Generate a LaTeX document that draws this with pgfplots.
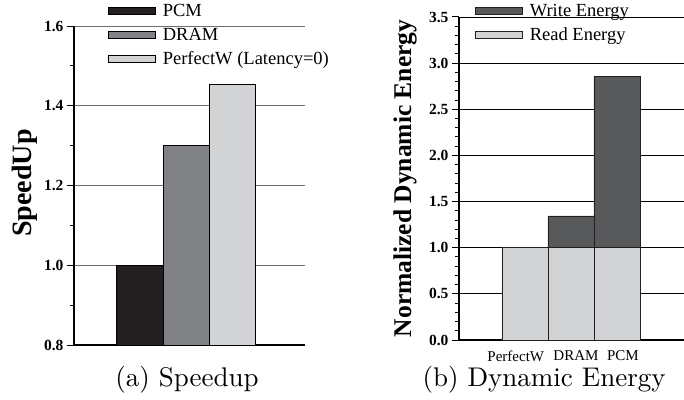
\documentclass[border=0pt]{standalone}
\usepackage{fontspec}
\usepackage{pgfplots}
\pgfplotsset{compat=1.18}
\newfontfamily\tnr{Liberation Serif}
\newfontfamily\capfont[Extension=.otf]{lmroman10-regular}
\definecolor{cpcm}{HTML}{231F20}
\definecolor{cdram}{HTML}{808285}
\definecolor{cperf}{HTML}{D1D3D4}
\definecolor{cwrite}{HTML}{58595B}
\definecolor{cgrid}{HTML}{6D6E71}
\begin{document}
\begin{tikzpicture}
\path[use as bounding box] (0,0) rectangle (684pt,399pt);
\pgfplotsset{
  swatch/.style={legend image code/.code={\draw[##1,line width=0.7pt] (0pt,-3.5pt) rectangle (47pt,3.5pt); \path (52pt,0pt);}},
  tlab/.style={font=\tnr\bfseries\fontsize{15.5}{15.5}\selectfont,
     /pgf/number format/.cd, fixed, fixed zerofill, precision=1, assume math mode=true},
}
% ---------- (a) Speedup ----------
\begin{axis}[
  at={(74pt,54pt)}, anchor=south west, scale only axis,
  width=231pt, height=319pt,
  xmin=-1.42, xmax=3.57, ymin=0.8, ymax=1.6,
  axis x line=bottom, axis y line=left,
  axis line style={-, line width=1.2pt, black},
  xtick=\empty,
  ytick={0.8,1.0,1.2,1.4,1.6}, minor ytick={0.9,1.1,1.3,1.5},
  tick align=outside, major tick length=7pt, minor tick length=4pt,
  tick style={line width=1pt, black},
  ymajorgrids, major grid style={cgrid, line width=0.8pt},
  yticklabel style={tlab},
  ylabel={SpeedUp},
  ylabel style={at={(axis description cs:-0.212,0.508)}, anchor=center,
     font=\tnr\bfseries\fontsize{28}{30}\selectfont},
  xlabel={(a) Speedup},
  xlabel style={at={(axis description cs:0.489,-0.11)}, anchor=center,
     font=\capfont\fontsize{27}{30}\selectfont},
  legend style={at={(axis description cs:0.147,1.075)}, anchor=north west,
     draw=none, fill=none, inner sep=0pt, row sep=6pt,
     font=\tnr\fontsize{18.5}{20}\selectfont, cells={anchor=west}},
  legend cell align=left,
]
\addplot[ybar, bar width=1, bar shift=0pt, fill=cpcm, draw=black, line width=0.6pt, swatch]
  coordinates {(0,1.0)};
\addlegendentry{PCM}
\addplot[ybar, bar width=1, bar shift=0pt, fill=cdram, draw=black, line width=0.6pt, swatch]
  coordinates {(1,1.30)};
\addlegendentry{DRAM}
\addplot[ybar, bar width=1, bar shift=0pt, fill=cperf, draw=black, line width=0.6pt, swatch]
  coordinates {(2,1.455)};
\addlegendentry{PerfectW (Latency=0)}
\end{axis}
% ---------- (b) Dynamic Energy ----------
\begin{axis}[
  at={(459pt,59pt)}, anchor=south west, scale only axis,
  width=225pt, height=323pt,
  xmin=-1.435, xmax=3.46, ymin=0, ymax=3.5,
  axis x line=bottom, axis y line=left,
  axis line style={-, line width=1.2pt, black},
  ybar stacked, bar width=1,
  xtick={-0.2,1.11,2.13}, xticklabels={PerfectW,DRAM,PCM},
  x tick style={draw=none},
  xticklabel style={font=\tnr\fontsize{15}{15}\selectfont},
  ytick={0,0.5,1.0,1.5,2.0,2.5,3.0,3.5}, minor y tick num=4,
  tick align=outside, major tick length=7pt, minor tick length=4pt,
  y tick style={line width=1pt, black},
  ymajorgrids, major grid style={black, line width=0.8pt},
  yticklabel style={tlab},
  ylabel={Normalized Dynamic Energy},
  ylabel style={at={(axis description cs:-0.24,0.50)}, anchor=center,
     font=\tnr\bfseries\fontsize{25.5}{28}\selectfont},
  xlabel={(b) Dynamic Energy},
  xlabel style={at={(axis description cs:0.378,-0.124)}, anchor=center,
     font=\capfont\fontsize{27}{30}\selectfont},
  legend style={at={(axis description cs:0.071,1.046)}, anchor=north west,
     draw=none, fill=none, inner sep=0pt, row sep=6pt,
     font=\tnr\fontsize{18.5}{20}\selectfont, cells={anchor=west}},
  reverse legend,
]
\addplot[fill=cperf, draw=cpcm, line width=0.6pt, swatch]
  coordinates {(0,1.0) (1,1.0) (2,1.0)};
\addlegendentry{Read Energy}
\addplot[fill=cwrite, draw=cpcm, line width=0.6pt, swatch]
  coordinates {(0,0) (1,0.345) (2,1.86)};
\addlegendentry{Write Energy}
\end{axis}
\end{tikzpicture}
\end{document}
